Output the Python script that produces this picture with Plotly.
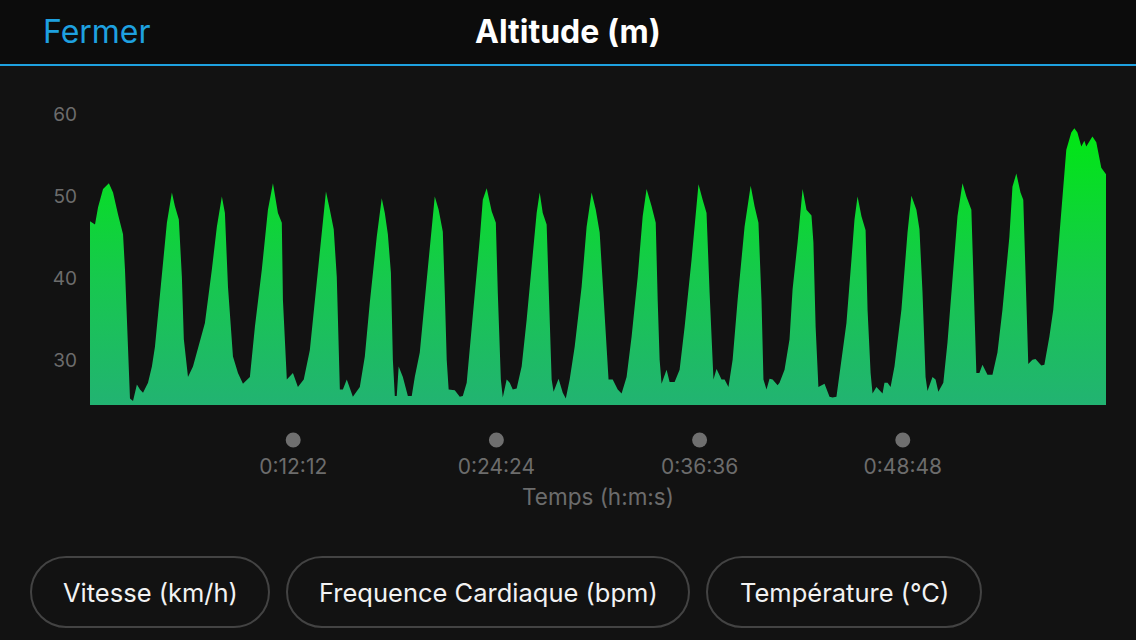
import plotly.graph_objects as go

# ---------------- data ----------------
time_s = [0, 18, 29, 47, 68, 83, 101, 119, 126, 133, 137, 144, 155, 169, 180, 191, 209, 223, 234, 252,
          263, 277, 295, 306, 320, 331, 338, 353, 371, 396, 414, 439, 457, 475, 486, 497, 515, 533, 551, 576,
          594, 619, 641, 659, 677, 691, 695, 709, 731, 749, 770, 792, 810, 835, 850, 864, 878, 889, 900, 911,
          925, 947, 972, 990, 1008, 1033, 1051, 1062, 1073, 1084, 1091, 1098, 1105, 1112, 1127, 1145, 1159, 1170, 1188, 1206,
          1224, 1242, 1256, 1271, 1278, 1285, 1292, 1314, 1332, 1343, 1357, 1368, 1386, 1404, 1415, 1429, 1447, 1462, 1469, 1480,
          1487, 1501, 1512, 1523, 1537, 1555, 1573, 1591, 1609, 1620, 1631, 1645, 1652, 1663, 1670, 1688, 1703, 1714, 1728, 1746,
          1771, 1789, 1807, 1822, 1836, 1847, 1861, 1868, 1883, 1901, 1915, 1933, 1951, 1973, 1991, 2005, 2023, 2038, 2045, 2052,
          2059, 2077, 2088, 2106, 2124, 2142, 2167, 2182, 2192, 2207, 2221, 2232, 2243, 2246, 2257, 2275, 2286, 2300, 2315, 2333,
          2358, 2380, 2394, 2408, 2419, 2426, 2437, 2448, 2459, 2477, 2484, 2502, 2520, 2531, 2549, 2560, 2567, 2581, 2599, 2606,
          2614, 2624, 2646, 2664, 2675, 2689, 2700, 2725, 2743, 2754, 2765, 2779, 2794, 2801, 2812, 2819, 2833, 2855, 2862, 2873,
          2884, 2898, 2923, 2945, 2959, 2977, 2988, 2999, 3010, 3017, 3035, 3046, 3056, 3074, 3089, 3107, 3125, 3143, 3157, 3175,
          3182, 3193, 3204, 3215, 3233, 3251, 3269, 3287, 3312, 3323, 3337, 3352, 3362, 3370, 3380, 3395, 3406, 3427, 3438, 3456,
          3470, 3485, 3503, 3517, 3535, 3546, 3557, 3571, 3582, 3589, 3611, 3625, 3643, 3660]

altitude_m = [47.0, 46.6, 48.7, 50.9, 51.6, 50.5, 47.8, 45.4, 41.1, 35.0, 29.3, 25.4, 25.1, 27.1, 26.5, 26.1, 27.3, 29.3, 31.7, 37.8,
              41.5, 46.8, 50.5, 48.8, 47.2, 40.2, 32.6, 28.0, 29.3, 32.2, 34.6, 41.1, 46.3, 50.0, 48.0, 39.0, 30.5, 28.5, 27.2, 28.0,
              34.1, 41.1, 48.4, 51.6, 48.0, 46.8, 37.4, 27.7, 28.5, 26.8, 27.7, 31.3, 37.4, 46.3, 50.6, 48.4, 46.0, 40.2, 26.5, 26.5,
              27.7, 25.6, 26.8, 30.5, 37.1, 45.1, 49.8, 48.0, 45.4, 40.7, 30.1, 25.7, 25.7, 29.3, 28.0, 25.7, 25.7, 28.0, 31.0, 37.4,
              43.9, 50.0, 48.4, 45.7, 38.3, 30.1, 26.5, 26.4, 25.6, 25.7, 27.3, 31.3, 38.3, 44.8, 49.6, 51.0, 48.2, 46.8, 38.3, 27.7,
              25.5, 27.7, 27.3, 26.5, 26.6, 29.3, 35.0, 41.1, 48.0, 50.5, 48.0, 46.6, 38.3, 27.7, 26.2, 27.8, 26.1, 25.4, 27.7, 31.7,
              39.0, 46.3, 50.5, 48.4, 45.6, 39.0, 31.0, 27.7, 27.7, 26.5, 26.0, 28.0, 32.9, 40.2, 47.6, 50.9, 48.8, 46.8, 37.4, 30.1,
              27.2, 28.9, 27.4, 27.4, 28.9, 34.1, 42.3, 48.0, 51.5, 49.6, 48.0, 38.3, 30.1, 27.7, 29.0, 27.7, 27.7, 26.8, 30.1, 37.4,
              46.3, 51.3, 48.8, 46.8, 37.4, 27.7, 26.5, 27.8, 27.7, 27.0, 27.3, 28.9, 32.6, 38.7, 44.4, 48.4, 50.9, 48.4, 47.7, 44.4,
              34.1, 26.8, 27.2, 25.6, 25.5, 25.6, 28.5, 34.6, 42.3, 47.2, 50.0, 47.6, 45.9, 36.2, 28.5, 26.0, 26.8, 26.0, 27.3, 27.3,
              26.8, 29.3, 36.2, 45.6, 50.1, 48.4, 46.0, 38.3, 28.0, 26.3, 28.0, 27.7, 26.2, 27.3, 32.2, 40.2, 47.6, 51.6, 50.0, 48.4,
              40.2, 28.5, 28.5, 29.5, 28.3, 28.3, 31.0, 36.2, 45.1, 51.2, 52.8, 50.5, 49.6, 40.2, 29.6, 30.1, 30.2, 29.4, 29.5, 32.9,
              36.2, 42.3, 50.0, 55.7, 57.8, 58.3, 57.8, 56.1, 56.8, 56.1, 57.3, 56.6, 53.5, 52.7]

y_ticks = [30, 40, 50, 60]
x_tick_seconds = [732, 1464, 2196, 2928]
x_tick_labels = ["%d:%02d:%02d" % (s // 3600, (s % 3600) // 60, s % 60) for s in x_tick_seconds]

title_text = "Altitude (m)"
close_text = "Fermer"
x_title = "Temps (h:m:s)"
buttons = ["Vitesse (km/h)", "Frequence Cardiaque (bpm)", "Température (°C)"]

# ---------------- layout geometry (pixels) ----------------
W, H = 1136, 640
L, R, T, B = 90, 1106, 98, 405
PW, PH = R - L, B - T


def px(x):
    return (x - L) / PW


def py(y):
    return (B - y) / PH


BG = "#121212"
GRAY = "#6c6c6c"
FONT = "Inter"

fig = go.Figure()
fig.add_trace(go.Scatter(
    x=time_s, y=altitude_m, mode="lines",
    line=dict(width=0, color="rgba(0,0,0,0)"),
    fill="tozeroy",
    fillgradient=dict(type="vertical", start=24.6, stop=58.5,
                      colorscale=[[0, "#22b372"], [0.45, "#17c84e"], [1, "#00e812"]]),
    hoverinfo="skip", showlegend=False,
))

shapes = []
# header band
shapes.append(dict(type="rect", xref="paper", yref="paper", x0=px(-5), x1=px(W + 5), y0=py(64), y1=py(-5),
                   fillcolor="#0c0c0c", line=dict(width=0), layer="below"))
shapes.append(dict(type="line", xref="paper", yref="paper", x0=px(-5), x1=px(W + 5), y0=py(65), y1=py(65),
                   line=dict(color="#1ea1e0", width=2)))
# tick dots
for s in x_tick_seconds:
    shapes.append(dict(type="circle", xref="x", yref="paper", xsizemode="pixel", ysizemode="pixel",
                       xanchor=s, yanchor=py(440), x0=-7.5, x1=7.5, y0=-7.5, y1=7.5,
                       fillcolor="#6f6f6f", line=dict(width=0)))

# pill buttons
btn_boxes = [(31, 269), (287, 689), (707, 981)]
btn_y0, btn_y1 = 557, 627
k = 0.5523
for (bx0, bx1), label in zip(btn_boxes, buttons):
    w = bx1 - bx0
    h = btn_y1 - btn_y0
    r = h / 2
    a = w / 2 - r
    kr = k * r
    path = (f"M {-a},{-r} L {a},{-r} "
            f"C {a + kr},{-r} {a + r},{-kr} {a + r},0 "
            f"C {a + r},{kr} {a + kr},{r} {a},{r} "
            f"L {-a},{r} "
            f"C {-a - kr},{r} {-a - r},{kr} {-a - r},0 "
            f"C {-a - r},{-kr} {-a - kr},{-r} {-a},{-r} Z")
    shapes.append(dict(type="path", xref="paper", yref="paper", xsizemode="pixel", ysizemode="pixel",
                       xanchor=px((bx0 + bx1) / 2), yanchor=py((btn_y0 + btn_y1) / 2), path=path,
                       line=dict(color="#434343", width=2), fillcolor="rgba(0,0,0,0)"))

annotations = [
    dict(text=f"<b>{title_text}</b>", x=px(568), y=py(32), xref="paper", yref="paper",
         xanchor="center", yanchor="middle", showarrow=False,
         font=dict(family=FONT, size=32, color="#ffffff")),
    dict(text=close_text, x=px(41), y=py(32), xref="paper", yref="paper",
         xanchor="left", yanchor="middle", showarrow=False,
         font=dict(family=FONT, size=32, color="#1ea1e0")),
]
for (bx0, bx1), label in zip(btn_boxes, buttons):
    annotations.append(dict(text=label, x=px((bx0 + bx1) / 2), y=py(592), xref="paper", yref="paper",
                            xanchor="center", yanchor="middle", showarrow=False,
                            font=dict(family=FONT, size=25.5, color="#f2f2f2")))

fig.update_layout(
    width=W, height=H, autosize=False,
    margin=dict(l=L, r=W - R, t=T, b=H - B, pad=0),
    paper_bgcolor=BG, plot_bgcolor=BG,
    font=dict(family=FONT, color=GRAY),
    xaxis=dict(range=[0, 3660], tickvals=x_tick_seconds, ticktext=x_tick_labels,
               showgrid=False, zeroline=False, showline=False, ticks="",
               ticklabelstandoff=47, tickfont=dict(family=FONT, size=21, color=GRAY),
               title=dict(text=x_title, standoff=11, font=dict(family=FONT, size=22.5, color=GRAY)),
               fixedrange=True),
    yaxis=dict(range=[24.6, 62.0], tickvals=y_ticks, showgrid=False, zeroline=False, showline=False,
               ticks="", ticklabelstandoff=12, tickfont=dict(family=FONT, size=19, color=GRAY),
               fixedrange=True),
    shapes=shapes,
    annotations=annotations,
    showlegend=False,
)

fig.write_html("out.html", config={"displayModeBar": False, "staticPlot": True},
               post_script="document.body.style.margin='0';document.body.style.overflow='hidden';document.body.style.background='#121212';")
